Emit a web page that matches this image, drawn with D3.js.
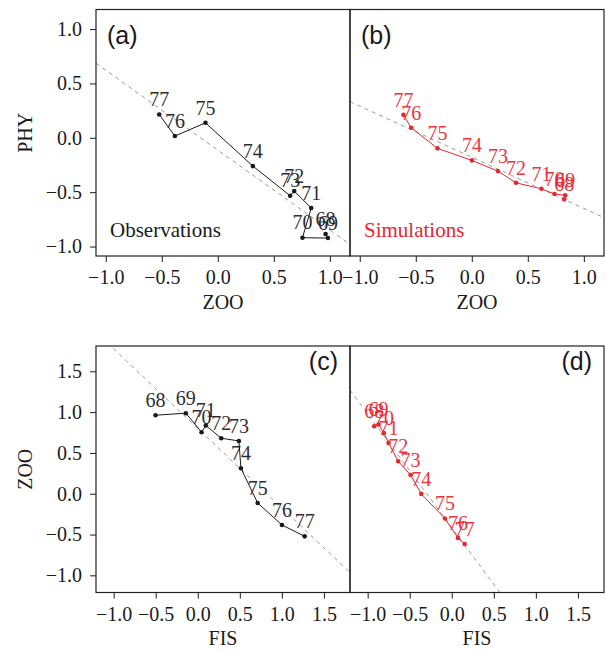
<!DOCTYPE html>
<html>
<head>
<meta charset="utf-8">
<script src="https://cdn.jsdelivr.net/npm/d3@7"></script>
<style>
  html, body { margin: 0; padding: 0; background: #fff; }
  svg { display: block; }
</style>
</head>
<body>
<div id="chart"></div>
<script>
// ---------- data ----------
const years = ["68", "69", "70", "71", "72", "73", "74", "75", "76", "77"];

// (a) observations: ZOO (x) vs PHY (y)
const obsZooA = [0.962, 0.983, 0.756, 0.834, 0.682, 0.646, 0.313, -0.110, -0.383, -0.523];
const obsPhyA = [-0.885, -0.922, -0.919, -0.646, -0.490, -0.533, -0.260, 0.138, 0.016, 0.215];

// (b) simulations: ZOO (x) vs PHY (y)
const simZooB = [0.825, 0.834, 0.738, 0.622, 0.394, 0.233, 0.001, -0.306, -0.541, -0.610];
const simPhyB = [-0.566, -0.529, -0.517, -0.469, -0.414, -0.306, -0.208, -0.097, 0.092, 0.211];

// (c) observations: FIS (x) vs ZOO (y)
const obsFisC = [-0.502, -0.142, 0.045, 0.096, 0.279, 0.489, 0.513, 0.712, 1.001, 1.271];
const obsZooC = [0.962, 0.987, 0.754, 0.836, 0.680, 0.647, 0.313, -0.113, -0.383, -0.522];

// (d) simulations: FIS (x) vs ZOO (y)
const simFisD = [-0.923, -0.871, -0.807, -0.752, -0.637, -0.490, -0.363, -0.081, 0.073, 0.153];
const simZooD = [0.827, 0.848, 0.745, 0.623, 0.398, 0.230, -0.002, -0.304, -0.541, -0.615];

// regression lines [intercept, slope]
const fitA = [-0.113, -0.735];
const fitB = [-0.179, -0.470];
const fitC = [0.800, -0.975];
const fitD = [-0.415, -1.393];

const topTicks = [-1.0, -0.5, 0.0, 0.5, 1.0];
const bottomTicks = [-1.0, -0.5, 0.0, 0.5, 1.0, 1.5];
const panelTags = ["(a)", "(b)", "(c)", "(d)"];
const seriesNames = ["Observations", "Simulations"];
const axisTitles = { phy: "PHY", zoo: "ZOO", fis: "FIS" };

// ---------- layout ----------
const W = 606, H = 650;
const BLACK = "#1a1a1a", RED = "#e8262e", GRAY = "#9a9a9a";
const SERIF = "'Liberation Serif', 'Times New Roman', serif";
const SANS = "'Liberation Sans', Arial, sans-serif";

const svg = d3.select("#chart").append("svg")
  .attr("width", W).attr("height", H);

const colsX = [[96, 350], [350, 604]];
const rowsY = [[9.5, 256], [346, 592.5]];
const topDomain = [-1.087, 1.18];
const botDomain = [-1.21, 1.81];

const panels = [
  { tag: panelTags[0], col: 0, row: 0, xs: obsZooA, ys: obsPhyA, fit: fitA, color: BLACK,
    dom: topDomain, ticks: topTicks, xTitle: axisTitles.zoo, yTitle: axisTitles.phy, yAxis: true,
    name: seriesNames[0], tagAnchor: "start" },
  { tag: panelTags[1], col: 1, row: 0, xs: simZooB, ys: simPhyB, fit: fitB, color: RED,
    dom: topDomain, ticks: topTicks, xTitle: axisTitles.zoo, yAxis: false,
    name: seriesNames[1], tagAnchor: "start" },
  { tag: panelTags[2], col: 0, row: 1, xs: obsFisC, ys: obsZooC, fit: fitC, color: BLACK,
    dom: botDomain, ticks: bottomTicks, xTitle: axisTitles.fis, yTitle: axisTitles.zoo, yAxis: true,
    tagAnchor: "end" },
  { tag: panelTags[3], col: 1, row: 1, xs: simFisD, ys: simZooD, fit: fitD, color: RED,
    dom: botDomain, ticks: bottomTicks, xTitle: axisTitles.fis, yAxis: false,
    tagAnchor: "end" }
];

const fmt = d3.format(".1f");

panels.forEach((p, i) => {
  const [x0, x1] = colsX[p.col];
  const [y0, y1] = rowsY[p.row];
  const x = d3.scaleLinear().domain(p.dom).range([x0, x1]);
  const y = d3.scaleLinear().domain(p.dom).range([y1, y0]);
  const g = svg.append("g");

  const clipId = "clip" + i;
  svg.append("clipPath").attr("id", clipId)
    .append("rect").attr("x", x0).attr("y", y0).attr("width", x1 - x0).attr("height", y1 - y0);

  // x axis
  const xa = g.append("g").attr("transform", `translate(0,${y1})`)
    .call(d3.axisBottom(x).tickValues(p.ticks).tickFormat(fmt).tickSize(6).tickSizeOuter(0).tickPadding(8));
  xa.select(".domain").remove();
  xa.selectAll("line").attr("stroke", BLACK).attr("stroke-width", 1);
  xa.selectAll("text").attr("font-family", SERIF).attr("font-size", 20).attr("fill", BLACK);

  g.append("text").attr("x", (x0 + x1) / 2).attr("y", y1 + 52.5)
    .attr("text-anchor", "middle").attr("font-family", SERIF).attr("font-size", 20)
    .attr("fill", BLACK).text(p.xTitle);

  if (p.yAxis) {
    const ya = g.append("g").attr("transform", `translate(${x0},0)`)
      .call(d3.axisLeft(y).tickValues(p.ticks).tickFormat(fmt).tickSize(6).tickSizeOuter(0).tickPadding(8));
    ya.select(".domain").remove();
    ya.selectAll("line").attr("stroke", BLACK).attr("stroke-width", 1);
    ya.selectAll("text").attr("font-family", SERIF).attr("font-size", 20).attr("fill", BLACK);
    const cy = (y0 + y1) / 2;
    g.append("text").attr("transform", `translate(32,${cy}) rotate(-90)`)
      .attr("text-anchor", "middle").attr("font-family", SERIF).attr("font-size", 20)
      .attr("fill", BLACK).text(p.yTitle);
  }

  // regression line (dashed)
  const [a, b] = p.fit;
  g.append("line").attr("clip-path", `url(#${clipId})`)
    .attr("x1", x(p.dom[0])).attr("y1", y(a + b * p.dom[0]))
    .attr("x2", x(p.dom[1])).attr("y2", y(a + b * p.dom[1]))
    .attr("stroke", GRAY).attr("stroke-width", 1).attr("stroke-dasharray", "4,4");

  // trajectory
  const pts = years.map((yr, k) => ({ yr, vx: p.xs[k], vy: p.ys[k] }));
  g.append("path").datum(pts)
    .attr("d", d3.line().x(d => x(d.vx)).y(d => y(d.vy)))
    .attr("fill", "none").attr("stroke", p.color).attr("stroke-width", 1);

  g.selectAll("circle.pt").data(pts).join("circle")
    .attr("cx", d => x(d.vx)).attr("cy", d => y(d.vy)).attr("r", 2.3)
    .attr("fill", p.color);

  g.selectAll("text.lab").data(pts).join("text")
    .attr("x", d => x(d.vx)).attr("y", d => y(d.vy) - 8.3)
    .attr("text-anchor", "middle").attr("font-family", SERIF).attr("font-size", 20)
    .attr("fill", p.color).attr("opacity", 0.92).text(d => d.yr);

  if (p.name) {
    g.append("text").attr("x", x0 + 14).attr("y", y1 - 19)
      .attr("font-family", SERIF).attr("font-size", 21).attr("fill", p.color).text(p.name);
  }

  // panel tag
  const tx = p.tagAnchor === "start" ? x0 + 11 : x1 - 12;
  const ty = p.row === 0 ? y0 + 34 : y0 + 24;
  g.append("text").attr("x", tx).attr("y", ty).attr("text-anchor", p.tagAnchor)
    .attr("font-family", SANS).attr("font-size", 25).attr("fill", BLACK).text(p.tag);

  // box
  g.append("rect").attr("x", x0).attr("y", y0).attr("width", x1 - x0).attr("height", y1 - y0)
    .attr("fill", "none").attr("stroke", "#222").attr("stroke-width", 1.2);
});
</script>
</body>
</html>
